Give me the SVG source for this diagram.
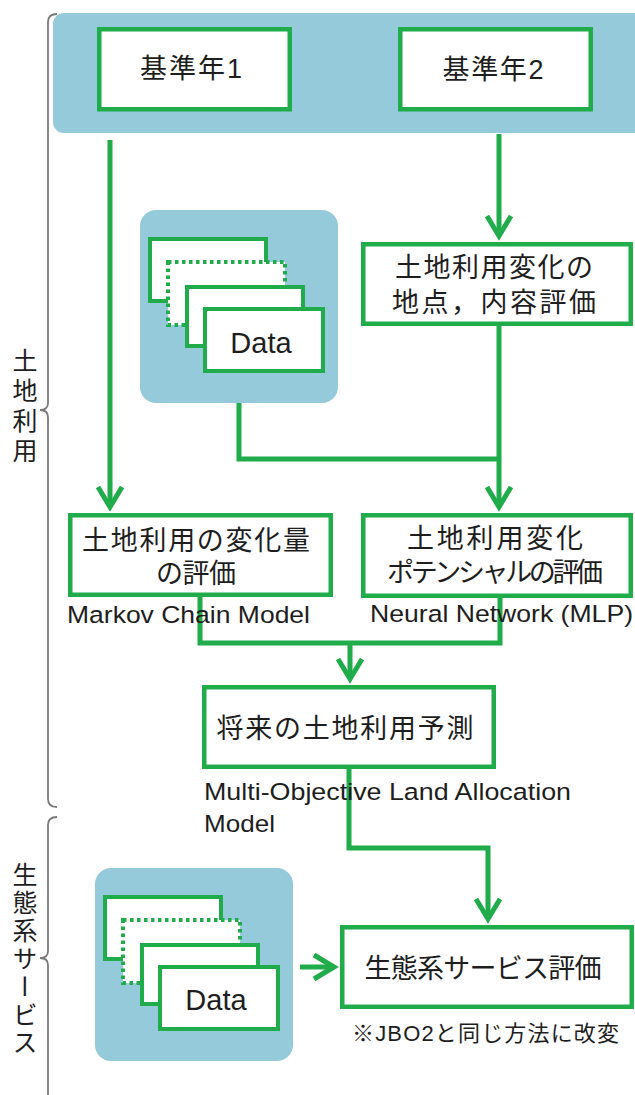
<svg xmlns="http://www.w3.org/2000/svg" width="635" height="1095" viewBox="0 0 635 1095">
<defs>
<style>
.band{fill:#95cadb}
.box{fill:#fff;stroke:#21ac4b;stroke-width:4.5}
.dbox{fill:#fff;stroke:#21ac4b;stroke-width:4}
.dot{fill:#fff;stroke:#21ac4b;stroke-width:4;stroke-dasharray:3.5 3.5}
.con{fill:none;stroke:#21ac4b;stroke-width:5}
.brace{fill:none;stroke:#7a7a7a;stroke-width:1.8}
.t{font-family:"Liberation Sans","Noto Sans CJK JP",sans-serif;fill:#1e1e1e}
.j{font-size:27px;text-anchor:middle}
.lbl{font-size:24.5px}
.vt{font-size:25px;writing-mode:vertical-rl;text-anchor:middle}
</style>
<marker id="ah" markerUnits="userSpaceOnUse" markerWidth="30" markerHeight="30" refX="0" refY="0" orient="auto" overflow="visible">
<path d="M-20,-12 L0,0 L-20,12" fill="none" stroke="#21ac4b" stroke-width="5"/>
</marker>
</defs>
<rect width="635" height="1095" fill="#fff"/>

<g id="braces">
<path class="brace" d="M57,14 Q48,14 48,22 L48,403 Q48,410 40,410 Q48,410 48,417 L48,799 Q48,807 57,807"/>
<path class="brace" d="M57,817 Q48,817 48,825 L48,951 Q48,958 40,958 Q48,958 48,965 L48,1095"/>
<text class="t vt" x="23" y="408" letter-spacing="5">土地利用</text>
<text class="t vt" x="23" y="960" letter-spacing="3">生態系サービス</text>
</g>

<g id="band">
<rect class="band" x="53" y="13" width="600" height="120" rx="11"/>
</g>

<g id="data1" transform="translate(140,210)">
<rect class="band" width="198" height="193" rx="16"/>
<rect class="dbox" x="10" y="29" width="116" height="62"/>
<rect class="dot" x="28" y="52" width="117" height="63"/>
<rect class="dbox" x="47" y="77" width="116" height="59"/>
<rect class="dbox" x="65" y="99" width="118" height="62"/>
<text class="t" x="121" y="143" font-size="29" text-anchor="middle">Data</text>
</g>

<g id="data2" transform="translate(95,868)">
<rect class="band" width="198" height="193" rx="16"/>
<rect class="dbox" x="10" y="29" width="116" height="62"/>
<rect class="dot" x="28" y="52" width="117" height="63"/>
<rect class="dbox" x="47" y="77" width="116" height="59"/>
<rect class="dbox" x="65" y="99" width="118" height="62"/>
<text class="t" x="121" y="142" font-size="29" text-anchor="middle">Data</text>
</g>

<g id="connectors">
<path class="con" d="M110,140 V507" marker-end="url(#ah)"/>
<path class="con" d="M499,134 V236" marker-end="url(#ah)"/>
<path class="con" d="M499,326 V507" marker-end="url(#ah)"/>
<path class="con" d="M239,403 V459 H499"/>
<path class="con" d="M200,597 V643 H500 V598"/>
<path class="con" d="M350,643 V679" marker-end="url(#ah)"/>
<path class="con" d="M349,769 V848 H488 V919" marker-end="url(#ah)"/>
<path class="con" d="M300,967 H334" marker-end="url(#ah)"/>
</g>

<g id="year1">
<rect class="box" x="99.25" y="29.25" width="190.5" height="80"/>
<text class="t j" x="191" y="78" textLength="102">基準年1</text>
</g>

<g id="year2">
<rect class="box" x="400.25" y="29.25" width="190.5" height="80"/>
<text class="t j" x="493" y="79" textLength="101">基準年2</text>
</g>

<g id="change-location">
<rect class="box" x="363.25" y="244.25" width="267.5" height="79.5"/>
<text class="t j" x="494" y="277" textLength="198">土地利用変化の</text>
<text class="t j" x="494" y="312" textLength="204">地点，内容評価</text>
</g>

<g id="change-amount">
<rect class="box" x="70.25" y="515.25" width="260.5" height="79.5"/>
<text class="t j" x="196" y="550" textLength="228">土地利用の変化量</text>
<text class="t j" x="196" y="583" textLength="80">の評価</text>
</g>

<g id="change-potential">
<rect class="box" x="363.25" y="515.25" width="267.5" height="80.5"/>
<text class="t j" x="495" y="548" textLength="176">土地利用変化</text>
<text class="t j" x="495" y="582" textLength="216">ポテンシャルの評価</text>
</g>

<g id="future">
<rect class="box" x="204.25" y="687.25" width="289.5" height="79.5"/>
<text class="t j" x="345" y="738" textLength="257">将来の土地利用予測</text>
</g>

<g id="ecosystem">
<rect class="box" x="342.25" y="927.25" width="289.5" height="79.5"/>
<text class="t j" x="483" y="978" textLength="237">生態系サービス評価</text>
</g>

<g id="labels">
<text class="t lbl" x="67" y="623" textLength="243" lengthAdjust="spacingAndGlyphs">Markov Chain Model</text>
<text class="t lbl" x="370" y="622" textLength="263" lengthAdjust="spacingAndGlyphs">Neural Network (MLP)</text>
<text class="t lbl" x="204" y="800" textLength="367" lengthAdjust="spacingAndGlyphs">Multi-Objective  Land Allocation</text>
<text class="t lbl" x="204" y="832" textLength="71" lengthAdjust="spacingAndGlyphs">Model</text>
<text class="t" x="352" y="1041" font-size="22" textLength="267">※JBO2と同じ方法に改変</text>
</g>
</svg>
